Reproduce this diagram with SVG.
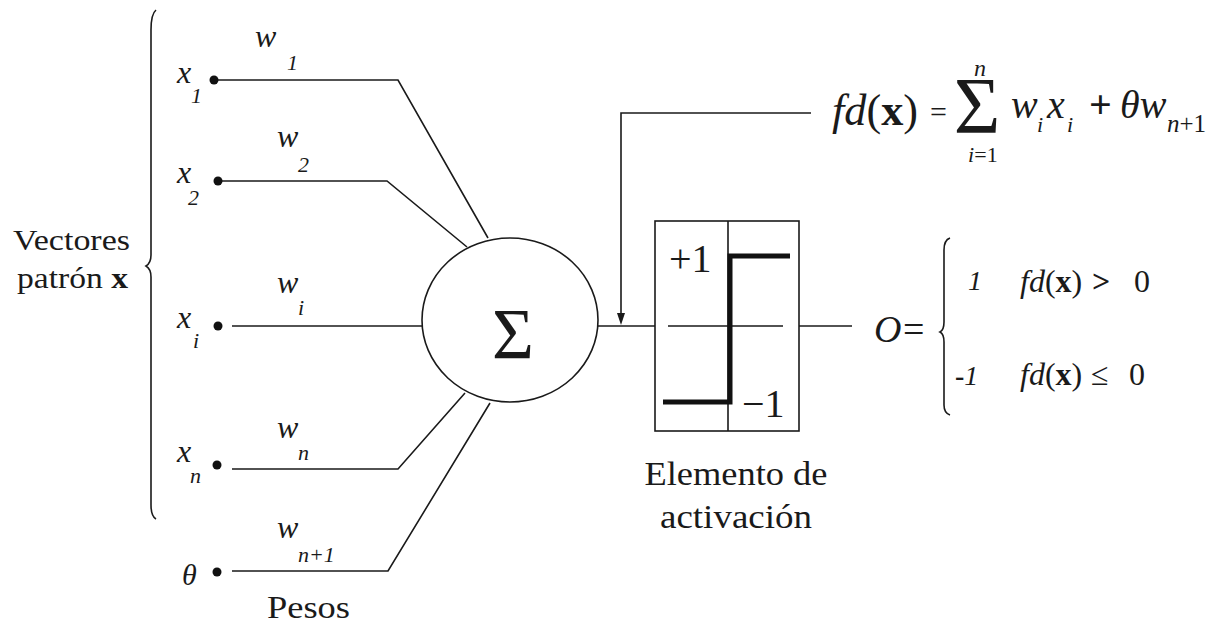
<svg xmlns="http://www.w3.org/2000/svg" width="1221" height="625" viewBox="0 0 1221 625">
<style>
text{font-family:"Liberation Serif","Times New Roman",serif;fill:#1a1a1a}
.it{font-style:italic}
.b{font-weight:bold}
.ln{fill:none;stroke:#1a1a1a;stroke-width:1.6}
.v{font-size:32px}
.s{font-size:22px}
</style>
<rect width="1221" height="625" fill="#fff"/>
<g id="brace-left">
<path class="ln" stroke-width="2" d="M156,10 Q151,14 151,30 L151,255 Q151,263 146,266 Q151,269 151,277 L151,505 Q151,516 156,519"/>
<text x="13" y="250" font-size="30" textLength="117" lengthAdjust="spacingAndGlyphs">Vectores</text>
<text x="17" y="288" font-size="30" textLength="111" lengthAdjust="spacingAndGlyphs">patrón <tspan class="b">x</tspan></text>
</g>
<g id="connectors">
<path class="ln" d="M214,80 H398 L488,238"/>
<path class="ln" d="M218,181 H387 L467,247"/>
<path class="ln" d="M232,326 H422"/>
<path class="ln" d="M232,469 H398 L465,393"/>
<path class="ln" d="M232,571 H388 L490,403"/>
<path class="ln" d="M598,326 H655"/>
<path class="ln" d="M811,113 H621 V322"/>
<path d="M617,313 L621,325 L625,313 Z" fill="#1a1a1a"/>
<path class="ln" d="M799,326 H852"/>
</g>
<g id="input-x1">
<circle cx="214" cy="80" r="4.5" fill="#111"/>
<text class="it v" x="177" y="83">x</text><text class="it s" x="191" y="103">1</text>
<text class="it v" x="255" y="47">w</text><text class="it s" x="287" y="70">1</text>
</g>
<g id="input-x2">
<circle cx="218" cy="181" r="4.5" fill="#111"/>
<text class="it v" x="177" y="183">x</text><text class="it s" x="188" y="205">2</text>
<text class="it v" x="277" y="147">w</text><text class="it s" x="298" y="172">2</text>
</g>
<g id="input-xi">
<circle cx="218" cy="326" r="4.5" fill="#111"/>
<text class="it v" x="177" y="328">x</text><text class="it s" x="193" y="348">i</text>
<text class="it v" x="277" y="293">w</text><text class="it s" x="298" y="315">i</text>
</g>
<g id="input-xn">
<circle cx="217" cy="465" r="4.5" fill="#111"/>
<text class="it v" x="177" y="462">x</text><text class="it s" x="190" y="483">n</text>
<text class="it v" x="277" y="438">w</text><text class="it s" x="298" y="460">n</text>
</g>
<g id="input-theta">
<circle cx="217" cy="572" r="4.5" fill="#111"/>
<text class="it" x="182" y="585" font-size="30">θ</text>
<text class="it v" x="277" y="538">w</text><text class="it s" x="298" y="562">n+1</text>
<text x="267" y="618" font-size="32" textLength="83" lengthAdjust="spacingAndGlyphs">Pesos</text>
</g>
<g id="summation">
<ellipse class="ln" cx="510" cy="320" rx="88" ry="82"/>
<text x="513" y="358" font-size="72" text-anchor="middle">Σ</text>
</g>
<g id="activation">
<rect class="ln" x="655" y="221" width="144" height="210"/>
<path class="ln" d="M728,221 V431 M668,326 H783"/>
<path fill="none" stroke="#111" stroke-width="5" d="M663,402 H730 V256 H790"/>
<text x="669" y="272" font-size="40">+1</text>
<text x="742" y="417" font-size="40">−1</text>
<text x="736" y="485" font-size="34" text-anchor="middle" textLength="183" lengthAdjust="spacingAndGlyphs">Elemento de</text>
<text x="736" y="528" font-size="34" text-anchor="middle" textLength="152" lengthAdjust="spacingAndGlyphs">activación</text>
</g>
<g id="formula">
<text x="832" y="125" font-size="44" textLength="86" lengthAdjust="spacingAndGlyphs"><tspan class="it">fd</tspan>(<tspan class="b">x</tspan>)</text>
<text x="930" y="122" font-size="30">=</text>
<text text-anchor="middle"><tspan x="980" y="76" font-size="24" class="it">n</tspan><tspan x="977" y="133" font-size="80">Σ</tspan><tspan x="971" y="162" font-size="22" class="it">i</tspan><tspan font-size="22" x="986" y="162">=1</tspan></text>
<text class="it" x="1011" y="118" font-size="40">w</text>
<text class="it" x="1037" y="132" font-size="22">i</text>
<text class="it" x="1047" y="118" font-size="40">x</text>
<text class="it" x="1067" y="132" font-size="22">i</text>
<text class="b" x="1089" y="118" font-size="40">+</text>
<text class="it" x="1120" y="118" font-size="40">θw</text>
<text x="1167" y="132" font-size="25"><tspan class="it">n</tspan>+1</text>
</g>
<g id="output">
<text class="it" x="874" y="342" font-size="38">O</text>
<text x="903" y="342" font-size="38">=</text>
<path class="ln" d="M950,238 Q944,240 944,250 L944,322 Q944,330 940,332 Q944,334 944,342 L944,405 Q944,413 950,415"/>
<text class="it" x="968" y="290" font-size="28">1</text>
<text x="1020" y="292" font-size="32"><tspan class="it">fd</tspan>(<tspan class="b">x</tspan>)</text>
<text class="b" x="1092" y="292" font-size="32">&gt;</text>
<text x="1134" y="292" font-size="32">0</text>
<text x="955" y="385" font-size="28"><tspan class="b">-</tspan><tspan class="it">1</tspan></text>
<text x="1020" y="385" font-size="32"><tspan class="it">fd</tspan>(<tspan class="b">x</tspan>)</text>
<text x="1091" y="385" font-size="32">≤</text>
<text x="1129" y="385" font-size="32">0</text>
</g>
</svg>
